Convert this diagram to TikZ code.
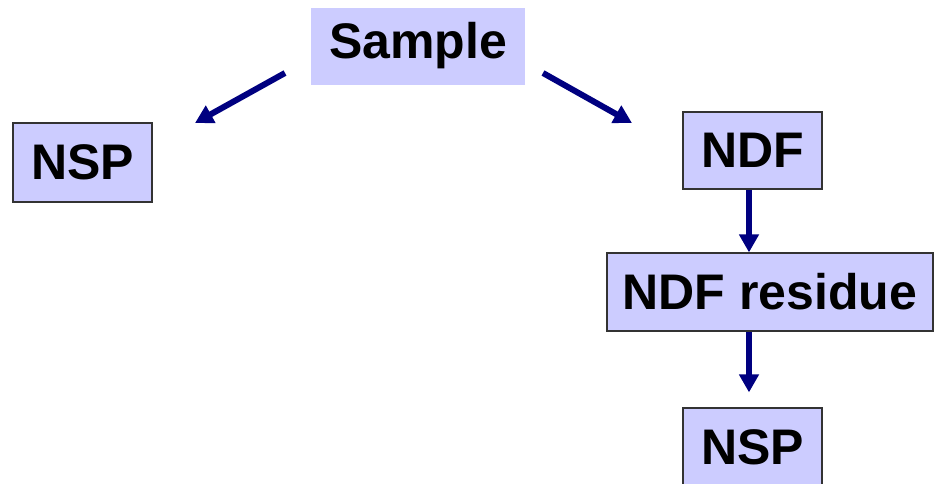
\documentclass[tikz,border=0pt]{standalone}
\usepackage{fontspec}
\setmainfont{Liberation Sans}
\usetikzlibrary{arrows.meta}
\definecolor{boxfill}{HTML}{CCCCFF}
\definecolor{boxline}{HTML}{333333}
\definecolor{arrowblue}{HTML}{000080}
\begin{document}
\begin{tikzpicture}[x=1pt,y=-1pt,
  box/.style={rectangle, fill=boxfill, draw=boxline, line width=1.2pt,
    inner sep=0pt, font=\fontsize{50}{54}\selectfont\bfseries},
  plainbox/.style={box, draw=none},
  flow/.style={draw=arrowblue, line width=6pt,
    -{Triangle[length=18pt,width=19pt]}}]
  \clip (0,0) rectangle (934,483);
  \useasboundingbox (0,0) rectangle (934,483);

  \node[plainbox, minimum width=214pt, minimum height=77pt] (sample) at (418,46) {Sample};
  \node[box, minimum width=139pt, minimum height=79pt] (nspL) at (82.5,162.5) {NSP};
  \node[box, minimum width=139pt, minimum height=77pt] (ndf) at (752.5,150.5) {NDF};
  \node[box, minimum width=326pt, minimum height=78pt] (res) at (770,292) {NDF residue};
  \node[box, minimum width=139pt, minimum height=78pt] (nspR) at (752.5,447) {NSP};

  % branch arrows leaving the sample
  \coordinate (leftStart) at (285,73);
  \coordinate (leftEnd) at (195,123);
  \coordinate (rightStart) at (543,73);
  \coordinate (rightEnd) at (632,123);
  \draw[flow] (leftStart) -- (leftEnd);
  \draw[flow] (rightStart) -- (rightEnd);

  % NDF chain
  \draw[flow] ([xshift=-3.5pt]ndf.south) -- ([xshift=-3.5pt]ndf.south |- res.north);
  \draw[flow] ([xshift=-21pt]res.south) -- ([xshift=-21pt,yshift=15pt]res.south |- nspR.north);
\end{tikzpicture}
\end{document}
